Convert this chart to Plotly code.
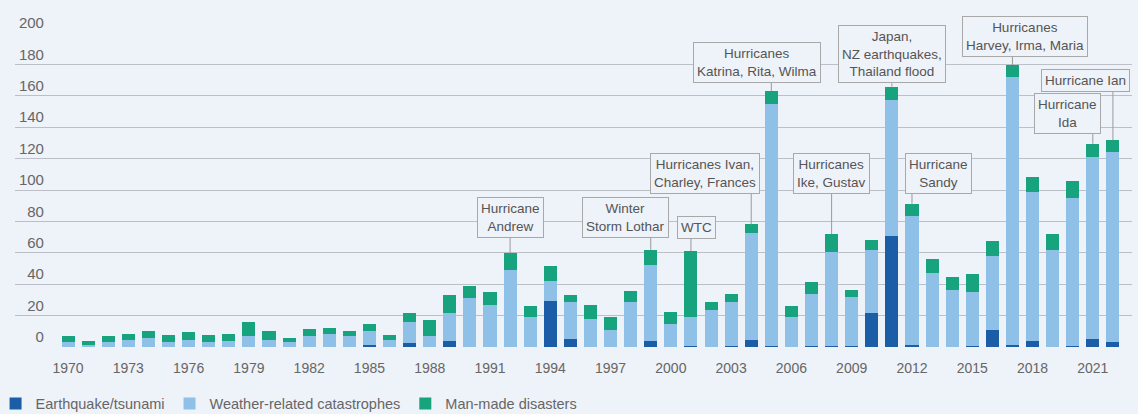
import plotly.graph_objects as go

years = list(range(1970, 2023))

earthquake = [0, 0, 0, 0, 0, 0, 0, 0, 0, 0,
              0, 0, 0, 0, 0, 1.5, 0, 2.5, 0, 3.7,
              0, 0, 0, 0, 29.4, 4.8, 0, 0, 0, 4,
              0, 0.5, 0, 0.5, 4.4, 0.5, 0.3, 0.5, 0.5, 0.5,
              21.8, 70.4, 1.5, 0.3, 0.3, 0.5, 10.8, 1.2, 4, 0.3,
              0.5, 4.9, 3.4]

weather = [3.5, 1.5, 3.5, 4.5, 6, 3.5, 4.5, 3, 4, 7,
           4.5, 3, 7, 8.6, 7, 8.7, 4.7, 13.4, 6.9, 17.8,
           31.3, 26.9, 49.2, 19, 12.5, 23.7, 18, 10.7, 28.5, 48,
           14.9, 18.5, 23.3, 28, 68, 154.5, 18.7, 33.1, 59.9, 31.1,
           39.7, 87, 82, 46.7, 35.7, 34.5, 47, 171, 94.5, 61.2,
           94.5, 116, 121]

manmade = [3.5, 2.5, 3.5, 4, 4.5, 4, 5, 4.5, 4, 9,
           5.5, 3, 4.5, 3.5, 3, 4.6, 3, 5.6, 10, 11.5,
           7.7, 8.3, 10.4, 7.3, 9.8, 4.6, 9, 8.4, 7.3, 9.9,
           7.1, 42, 5.2, 5.2, 5.7, 8, 7.3, 7.8, 11.6, 5,
           6.8, 8.5, 7.8, 9, 8.9, 11.2, 9.5, 7.4, 9.5, 10.6,
           10.6, 8.5, 7.4]

series_names = ["Earthquake/tsunami", "Weather-related catastrophes", "Man-made disasters"]
series_colors = ["#1b5da6", "#8fc1e8", "#17a37e"]

# event labels: text, year of bar, box centre x (years), box centre y, box bottom y
event_text = ["Hurricane<br>Andrew", "Winter<br>Storm Lothar", "WTC",
              "Hurricanes Ivan,<br>Charley, Frances", "Hurricanes<br>Katrina, Rita, Wilma",
              "Hurricanes<br>Ike, Gustav", "Japan,<br>NZ earthquakes,<br>Thailand flood",
              "Hurricane<br>Sandy", "Hurricanes<br>Harvey, Irma, Maria",
              "Hurricane<br>Ida", "Hurricane Ian"]
event_year = [1992, 1999, 2001, 2004, 2005, 2008, 2011, 2012, 2017, 2021, 2022]
box_x = [1992, 1997.76, 2001.3, 2001.71, 2004.28, 2008, 2011, 2013.3, 2017.6, 2019.76, 2020.66]
box_y = [82.8, 82.8, 76.4, 110.8, 181.5, 110.8, 186.6, 110.2, 198, 149, 170]
box_bottom = [70, 70, 70, 98, 168.8, 98.7, 168, 98, 186, 137, 164]

BG = "#eef2f9"
TXT = "#666666"
FONT = "Liberation Sans, Arial, sans-serif"

fig = go.Figure()
for name, vals, col in zip(series_names, [earthquake, weather, manmade], series_colors):
    fig.add_trace(go.Bar(x=years, y=vals, name=name, marker=dict(color=col, line=dict(width=0))))

totals = [e + w + m for e, w, m in zip(earthquake, weather, manmade)]
for txt, yr, bx, by, bb in zip(event_text, event_year, box_x, box_y, box_bottom):
    tot = totals[years.index(yr)]
    fig.add_shape(type="line", x0=yr, x1=yr, y0=tot, y1=bb, xref="x", yref="y",
                  line=dict(color="#9a9a9a", width=1), layer="above")
    fig.add_annotation(x=bx, y=by, xref="x", yref="y", text=txt, showarrow=False,
                       font=dict(family=FONT, size=13.5, color="#555555"),
                       bgcolor=BG, bordercolor="#a8a8a8", borderwidth=1, borderpad=3,
                       align="center")

fig.update_layout(
    width=1138, height=414,
    margin=dict(l=15, r=6, t=33, b=67, autoexpand=False),
    paper_bgcolor=BG, plot_bgcolor=BG,
    barmode="stack", bargap=0.35,
    font=dict(family=FONT, size=13.5, color=TXT),
    showlegend=True,
    legend=dict(orientation="h", x=-0.0174, xanchor="left", y=-0.18, yanchor="middle",
                font=dict(family=FONT, size=14.5, color=TXT), bgcolor="rgba(0,0,0,0)",
                itemwidth=30, traceorder="normal"),
    xaxis=dict(range=[1967.36, 2022.95], tickmode="linear", tick0=1970, dtick=3,
               showgrid=False, zeroline=False, showline=False, ticks="", automargin=False,
               tickfont=dict(family=FONT, size=14, color=TXT), ticklabelstandoff=11),
    yaxis=dict(range=[0, 200], tickmode="linear", tick0=0, dtick=20, automargin=False,
               showgrid=True, gridcolor="#bcc0c6", gridwidth=1, zeroline=False,
               showline=False, ticks="", anchor="free", position=0.0259,
               ticklabelshift=-10, tickfont=dict(family=FONT, size=15, color=TXT)),
)

fig.write_html("out.html", config={"displayModeBar": False},
               post_script="document.body.style.margin='0';document.body.style.background='#eef2f9';")
